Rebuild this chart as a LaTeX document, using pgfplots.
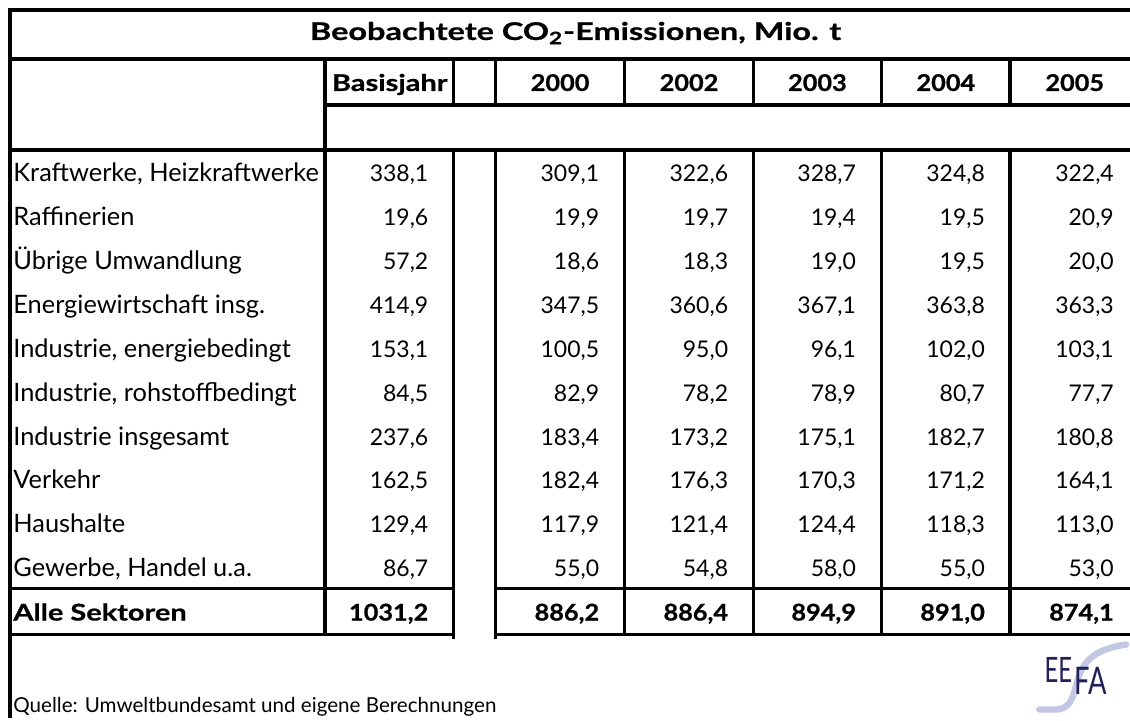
\documentclass[border=0pt]{standalone}
\usepackage{fontspec}
\setmainfont{Lato}
\usepackage{graphicx}
\usepackage{pgfplots}
\usepackage{pgfplotstable}
\pgfplotsset{compat=1.18}

\definecolor{eefablau}{HTML}{1E2160}
\definecolor{eefabogen}{HTML}{C3C7E6}

% Werte in Mio. t CO2
\pgfplotstableread[col sep=semicolon]{
row;label;basis;j2000;j2002;j2003;j2004;j2005
1;Kraftwerke, Heizkraftwerke;338.1;309.1;322.6;328.7;324.8;322.4
2;Raffinerien;19.6;19.9;19.7;19.4;19.5;20.9
3;Übrige Umwandlung;57.2;18.6;18.3;19.0;19.5;20.0
4;Energiewirtschaft insg.;414.9;347.5;360.6;367.1;363.8;363.3
5;Industrie, energiebedingt;153.1;100.5;95.0;96.1;102.0;103.1
6;Industrie, rohstoffbedingt;84.5;82.9;78.2;78.9;80.7;77.7
7;Industrie insgesamt;237.6;183.4;173.2;175.1;182.7;180.8
8;Verkehr;162.5;182.4;176.3;170.3;171.2;164.1
9;Haushalte;129.4;117.9;121.4;124.4;118.3;113.0
10;Gewerbe, Handel u.a.;86.7;55.0;54.8;58.0;55.0;53.0
}\sektoren

\pgfplotstableread[col sep=semicolon]{
row;label;basis;j2000;j2002;j2003;j2004;j2005
11;Alle Sektoren;1031.2;886.2;886.4;894.9;891.0;874.1
}\gesamt

% Schriften
\newcommand\namefont{\fontsize{12.7pt}{14pt}\selectfont}
\newcommand\zahlfont{\fontsize{11.5pt}{13pt}\selectfont}
\newcommand\fettname{\fontsize{11.5pt}{13pt}\selectfont\bfseries\addfontfeatures{FakeStretch=1.26,FakeBold=0.8}}
\newcommand\fettzahl{\fontsize{11.5pt}{13pt}\selectfont\bfseries\addfontfeatures{FakeStretch=1.1,FakeBold=0.8}}
\newcommand\titelfont{\fontsize{12.2pt}{14pt}\selectfont\bfseries\addfontfeatures{FakeStretch=1.33,FakeBold=0.8}}

% Grundlinie der Zeile (Pixel von oben)
\newcommand\zy{150+43.9*(\thisrow{row}-0.5)+10}

\pgfplotsset{
  zahl/.style={draw=none, mark=none, point meta=explicit,
    nodes near coords={\pgfmathprintnumber[fixed, fixed zerofill, precision=1,
      use comma, 1000 sep={}, assume math mode=true]{\pgfplotspointmeta}},
    every node near coord/.append style={anchor=base east, inner sep=0pt, font=#1}},
}

% Tabellenzeilen: Bezeichnung + sechs Spalten
\newcommand\zeilen[3]{%
  \addplot[draw=none, mark=none, point meta=explicit symbolic, nodes near coords,
    every node near coord/.append style={anchor=base west, inner sep=0pt, font=#2}]
    table[x expr=13, y expr=\zy, meta=label] {#1};
  \addplot[zahl=#3] table[x expr=429, y expr=\zy, meta=basis] {#1};
  \addplot[zahl=#3] table[x expr=600, y expr=\zy, meta=j2000] {#1};
  \addplot[zahl=#3] table[x expr=729, y expr=\zy, meta=j2002] {#1};
  \addplot[zahl=#3] table[x expr=857, y expr=\zy, meta=j2003] {#1};
  \addplot[zahl=#3] table[x expr=986, y expr=\zy, meta=j2004] {#1};
  \addplot[zahl=#3] table[x expr=1115, y expr=\zy, meta=j2005] {#1};
}

\begin{document}
\begin{tikzpicture}
\begin{axis}[
  width=565pt, height=359.5pt, scale only axis,
  xmin=0, xmax=1130, ymin=0, ymax=719, y dir=reverse,
  hide axis, clip=false,
  unbounded coords=jump,
]
\path[fill=white] (rel axis cs:0,0) rectangle (rel axis cs:1,1);

% Linien
\addplot[black, line width=1.8pt, line cap=rect, mark=none] coordinates {
  (10,10) (1129,10) (0,nan)
  (10,59) (1129,59) (0,nan)
  (325,105) (1129,105) (0,nan)
  (10,150) (1129,150) (0,nan)
  (10,589) (454,589) (0,nan) (496,589) (1129,589) (0,nan)
  (10,635) (454,635) (0,nan) (496,635) (1129,635) (0,nan)
  (325,59) (325,635) (0,nan)
  (454,59) (454,105) (0,nan) (454,150) (454,638) (0,nan)
  (496,59) (496,105) (0,nan) (496,150) (496,638) (0,nan)
  (625,59) (625,105) (0,nan) (625,150) (625,635) (0,nan)
  (754,59) (754,105) (0,nan) (754,150) (754,635) (0,nan)
  (882,59) (882,105) (0,nan) (882,150) (882,635) (0,nan)
  (1011,59) (1011,105) (0,nan) (1011,150) (1011,635)
};
\addplot[black, line width=1.8pt, line cap=butt, mark=none] coordinates {(10,9) (10,719)};

% Kopf
\node[anchor=base, font=\titelfont] at (axis cs:576,40) {Beobachtete CO\textsubscript{2}-Emissionen, Mio. t};
\node[anchor=base, font=\fettname] at (axis cs:390,91) {Basisjahr};
\node[anchor=base, font=\fettzahl] at (axis cs:560.5,91) {2000};
\node[anchor=base, font=\fettzahl] at (axis cs:689.5,91) {2002};
\node[anchor=base, font=\fettzahl] at (axis cs:818,91) {2003};
\node[anchor=base, font=\fettzahl] at (axis cs:946.5,91) {2004};
\node[anchor=base, font=\fettzahl] at (axis cs:1075.5,91) {2005};

\zeilen{\sektoren}{\namefont}{\zahlfont}
\zeilen{\gesamt}{\fettname}{\fettzahl}

% Quelle und Logo
\node[anchor=base west, inner sep=0pt, font=\fontsize{10.3pt}{12pt}\selectfont] at (axis cs:13,713) {Quelle: Umweltbundesamt und eigene Berechnungen};
\draw[eefabogen, line width=3.2pt, line cap=round]
  (axis cs:1040,710) -- (axis cs:1058,710)
  .. controls (axis cs:1072,709) and (axis cs:1074,696) .. (axis cs:1078,682)
  .. controls (axis cs:1083,664) and (axis cs:1092,650) .. (axis cs:1127,645);
\node[anchor=base west, inner sep=0pt, text=eefablau, font=\fontsize{17.5pt}{18pt}\selectfont] at (axis cs:1045,683) {\scalebox{0.68}[1]{EE}};
\node[anchor=base west, inner sep=0pt, text=eefablau, font=\fontsize{19pt}{20pt}\selectfont] at (axis cs:1075,695) {\scalebox{0.72}[1]{FA}};
\end{axis}
\end{tikzpicture}
\end{document}
